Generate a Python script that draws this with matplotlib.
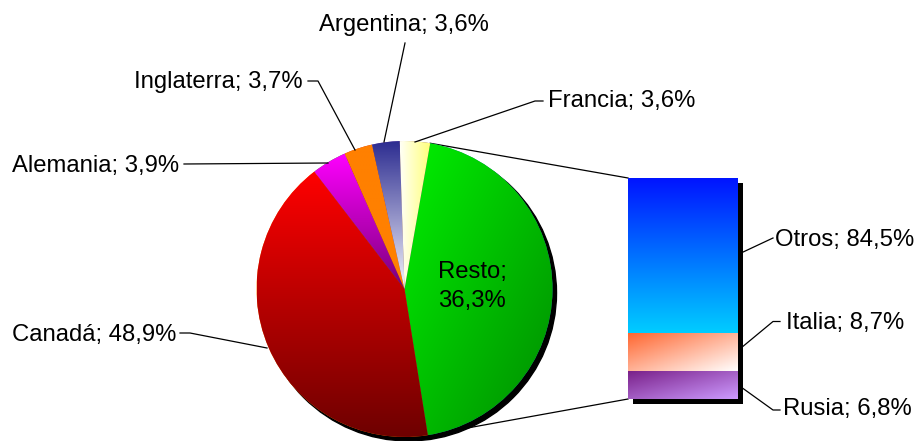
import numpy as np
import matplotlib
matplotlib.use('Agg')
import matplotlib.pyplot as plt

# pie slices (clockwise from the split line at the top right)
pie_names = ['Resto', 'Canadá', 'Alemania', 'Inglaterra', 'Argentina', 'Francia']
pie_pct = [36.3, 48.9, 3.9, 3.7, 3.6, 3.6]          # values printed on the labels
pie_share = [44.7, 42.1, 3.8, 3.1, 3.0, 3.3]        # slice sizes as drawn in the picture

# stacked bar (breakdown of "Resto"), bottom to top
bar_names = ['Rusia', 'Italia', 'Otros']
bar_pct = [6.8, 8.7, 84.5]                           # values printed on the labels
bar_share = [12.7, 17.2, 70.1]                       # segment sizes as drawn

H = 441
def Y(y):
    return H - y

def pct(v):
    return ('%.1f%%' % v).replace('.', ',')

def grad_fill(ax, patch, c1, c2, direction, z):
    ext = patch.get_path().get_extents() if hasattr(patch, 'theta1') else patch.get_bbox()
    x0, y0, x1, y1 = ext.x0, ext.y0, ext.x1, ext.y1
    n = 200
    gx, gy = np.meshgrid(np.linspace(0, 1, n), np.linspace(0, 1, n))
    t = gx * direction[0] + gy * direction[1]
    t = (t - t.min()) / (t.max() - t.min())
    c1 = np.array(c1) / 255.0
    c2 = np.array(c2) / 255.0
    img = c1[None, None, :] * (1 - t[..., None]) + c2[None, None, :] * t[..., None]
    im = ax.imshow(img, extent=[x0, x1, y0, y1], origin='lower', zorder=z, interpolation='bilinear')
    im.set_clip_path(patch)


plt.rcParams['font.family'] = ['Liberation Sans', 'DejaVu Sans']
FS = 17.2

fig = plt.figure(figsize=(9.15, 4.41), dpi=100)
ax = fig.add_axes([0, 0, 1, 1])

cx, cy, r = 404.5, Y(289), 148
wedges, _ = ax.pie(pie_share, center=(cx, cy), radius=r, startangle=80.0,
                   counterclock=False, frame=True,
                   wedgeprops=dict(linewidth=0, zorder=2))

# pie shadow
ax.add_patch(plt.Circle((cx + 4, cy - 4), r, color='black', zorder=1))

# slice gradients: (top/left colour, bottom/right colour, direction)
pie_fills = [
    ((0, 240, 0), (0, 140, 0), (1, -1)),
    ((255, 0, 0), (110, 0, 0), (0, -1)),
    ((255, 0, 255), (120, 0, 120), (0, -1)),
    ((255, 128, 0), (255, 128, 0), (0, -1)),
    ((45, 45, 145), (245, 245, 252), (0, -1)),
    ((255, 255, 245), (255, 255, 120), (1, 0)),
]
for w, (c1, c2, d) in zip(wedges, pie_fills):
    grad_fill(ax, w, c1, c2, d, 3)

# stacked bar
bar_x, bar_w = 683, 110
bar_bottom, bar_top = Y(399), Y(178)
scale = (bar_top - bar_bottom) / sum(bar_share)
heights = [s * scale for s in bar_share]
bottoms = np.concatenate([[bar_bottom], bar_bottom + np.cumsum(heights)[:-1]])
ax.bar(bar_x + 5, sum(heights), width=bar_w, bottom=bar_bottom - 5, color='black', zorder=1)
bars = ax.bar(bar_x, heights, width=bar_w, bottom=bottoms, linewidth=0, zorder=2)
bar_fills = [
    ((120, 30, 135), (205, 155, 255), (1, -1)),
    ((255, 100, 45), (255, 255, 255), (1, -1)),
    ((0, 20, 255), (0, 205, 255), (0, -1)),
]
for b, (c1, c2, d) in zip(bars, bar_fills):
    grad_fill(ax, b, c1, c2, d, 3)

# connector lines from the "Resto" slice to the bar
resto = wedges[0]
for ang, yb in [(resto.theta2, bar_top), (resto.theta1, bar_bottom)]:
    px = cx + r * np.cos(np.radians(ang))
    py = cy + r * np.sin(np.radians(ang))
    ax.plot([px, bar_x - bar_w / 2], [py, yb], color='black', lw=0.9, zorder=0.5)

# leader lines (pixel positions)
leaders = [
    [(405, 43), (384, 142)],
    [(308, 81), (318, 81), (355, 150)],
    [(543, 101), (535, 101), (415, 142)],
    [(184, 164), (328, 163)],
    [(180, 333), (190, 333), (267, 348)],
    [(773, 238), (741, 253)],
    [(780, 321.5), (773, 321.5), (741, 348)],
    [(780, 410), (773, 410), (741, 387)],
]
for pts in leaders:
    xs = [p[0] for p in pts]
    ys = [Y(p[1]) for p in pts]
    ax.plot(xs, ys, color='black', lw=0.9, zorder=4)

# labels
lab = dict(fontsize=FS, color='black', va='baseline', zorder=5)
ax.text(404, Y(31), pie_names[4] + '; ' + pct(pie_pct[4]), ha='center', **lab)
ax.text(303, Y(88.3), pie_names[3] + '; ' + pct(pie_pct[3]), ha='right', **lab)
ax.text(548, Y(107.3), pie_names[5] + '; ' + pct(pie_pct[5]), ha='left', **lab)
ax.text(179, Y(172.3), pie_names[2] + '; ' + pct(pie_pct[2]), ha='right', **lab)
ax.text(176, Y(341), pie_names[1] + '; ' + pct(pie_pct[1]), ha='right', **lab)
ax.text(472, Y(278.3), pie_names[0] + ';', ha='center', **lab)
ax.text(472, Y(306.7), pct(pie_pct[0]), ha='center', **lab)
ax.text(775, Y(246), bar_names[2] + '; ' + pct(bar_pct[2]), ha='left', **lab)
ax.text(786, Y(329), bar_names[1] + '; ' + pct(bar_pct[1]), ha='left', **lab)
ax.text(783, Y(415), bar_names[0] + '; ' + pct(bar_pct[0]), ha='left', **lab)

ax.set_xlim(0, 915)
ax.set_ylim(0, H)
ax.set_aspect('auto')
ax.axis('off')
fig.savefig('out.png', dpi=100)
